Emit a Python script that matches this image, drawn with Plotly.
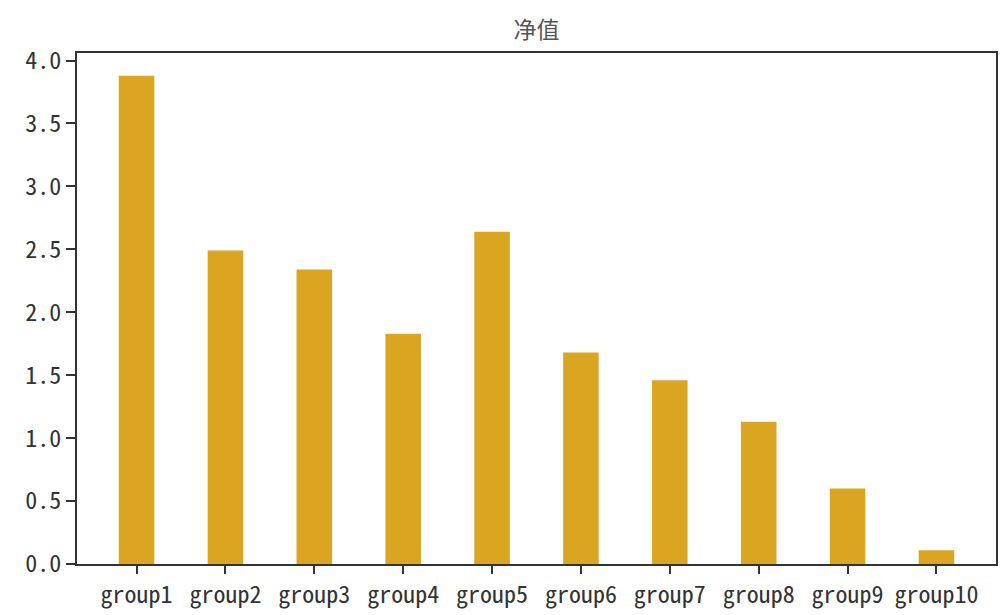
import plotly.graph_objects as go

categories = ["group1", "group2", "group3", "group4", "group5",
              "group6", "group7", "group8", "group9", "group10"]
values = [3.88, 2.49, 2.34, 1.83, 2.64, 1.68, 1.46, 1.13, 0.60, 0.11]
y_ticks = [0.0, 0.5, 1.0, 1.5, 2.0, 2.5, 3.0, 3.5, 4.0]
y_tick_labels = ["0.0", "0.5", "1.0", "1.5", "2.0", "2.5", "3.0", "3.5", "4.0"]
title_text = "净值"

font_family = "Noto Sans Mono CJK SC, Noto Sans CJK SC, monospace"

# page body has an 8px margin, so the figure is drawn at (8, 8)
W, H = 1000, 607
off = 8
ax_left, ax_right, ax_top, ax_bottom = 77, 996, 53, 564

fig = go.Figure(go.Bar(
    x=list(range(len(categories))),
    y=values,
    width=0.4,
    marker=dict(color="#DAA520", line=dict(width=0)),
))

fig.update_layout(
    width=W, height=H,
    margin=dict(l=ax_left - off, r=off + W - ax_right, t=ax_top - off,
                b=off + H - ax_bottom),
    paper_bgcolor="white", plot_bgcolor="white",
    showlegend=False,
    title=dict(text=title_text,
               x=((ax_left + ax_right) / 2 - off) / W, xanchor="center",
               y=1 - (30 - off) / H, yanchor="middle",
               font=dict(family=font_family, size=23, color="#555555")),
    font=dict(family=font_family, size=24, color="#333333"),
)

fig.update_xaxes(
    range=[-0.67, 9.67], automargin=False,
    tickmode="array", tickvals=list(range(len(categories))), ticktext=categories,
    ticks="outside", ticklen=8, tickwidth=2, tickcolor="#333333",
    showline=True, linecolor="#333333", linewidth=2, mirror=True,
    showgrid=False, zeroline=False,
    tickfont=dict(family=font_family, size=24, color="#333333"),
)
fig.update_yaxes(
    range=[0, 4.06], automargin=False,
    tickmode="array", tickvals=y_ticks, ticktext=y_tick_labels,
    ticks="outside", ticklen=9, tickwidth=2, tickcolor="#333333",
    showline=True, linecolor="#333333", linewidth=2, mirror=True,
    showgrid=False, zeroline=False,
    tickfont=dict(family=font_family, size=24, color="#333333"),
)

fig.write_html("out.html")
